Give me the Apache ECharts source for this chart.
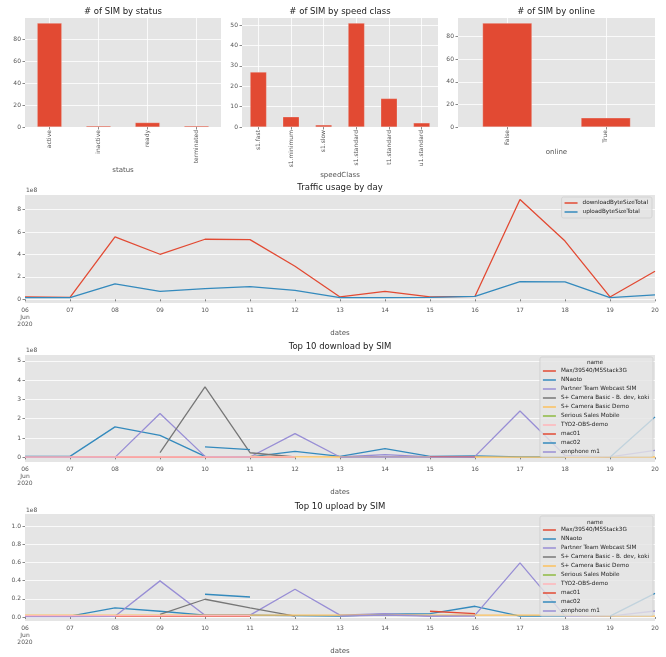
<!DOCTYPE html>
<html><head><meta charset="utf-8">
<script src="https://cdn.jsdelivr.net/npm/echarts@6/dist/echarts.min.js"></script>
<style>html,body{margin:0;padding:0;background:#fff}#c{width:666px;height:657px}</style>
</head><body><div id="c"></div>
<script>
// ---------- data ----------
const statusCats = ['active', 'inactive', 'ready', 'terminated'];
const statusCounts = [95, 1, 4, 1];
const speedCats = ['s1.fast', 's1.minimum', 's1.slow', 's1.standard', 't1.standard', 'u1.standard'];
const speedCounts = [27, 5, 1, 51, 14, 2];
const onlineCats = ['False', 'True'];
const onlineCounts = [92, 8];

const dayLabels = ['06\nJun\n2020', '07', '08', '09', '10', '11', '12', '13', '14', '15', '16', '17', '18', '19', '20'];

const downloadTotal = [0.21e8, 0.18e8, 5.57e8, 4.02e8, 5.36e8, 5.33e8, 2.95e8, 0.21e8, 0.71e8, 0.21e8, 0.27e8, 8.9e8, 5.2e8, 0.21e8, 2.5e8];
const uploadTotal = [0.15e8, 0.15e8, 1.37e8, 0.71e8, 0.95e8, 1.13e8, 0.8e8, 0.15e8, 0.15e8, 0.18e8, 0.27e8, 1.58e8, 1.55e8, 0.15e8, 0.39e8];

const simNames = ['Max/39540/M5Stack3G', 'NNaoto', 'Partner Team Webcast SIM', 'S+ Camera Basic - B. dev, koki', 'S+ Camera Basic Demo', 'Serious Sales Mobile', 'TYO2-OBS-demo', 'mac01', 'mac02', 'zenphone m1'];

// download by SIM (bytes)
const dlMax = [0.01e8, 0.01e8, 0.01e8, 0.01e8, 0.01e8, 0.01e8, 0.01e8, null, null, null, null, null, null, null, null];
const dlNNaoto = [0.05e8, 0.05e8, 1.58e8, 1.14e8, 0.05e8, 0.03e8, 0.31e8, 0.05e8, 0.45e8, 0.05e8, 0.08e8, 0.03e8, 0.02e8, null, null];
const dlPartner = [0.0, 0.0, 0.0, 2.27e8, 0.05e8, 0.02e8, 1.23e8, 0.02e8, 0.14e8, 0.03e8, 0.05e8, 2.4e8, 0.1e8, 0.02e8, 0.36e8];
const dlKoki = [null, null, null, 0.24e8, 3.65e8, 0.24e8, 0.02e8, null, null, null, null, null, null, null, null];
const dlDemo = [null, null, null, null, null, 0.05e8, 0.03e8, 0.02e8, 0.04e8, 0.02e8, 0.03e8, 0.01e8, 0.01e8, 0.02e8, 0.02e8];
const dlSerious = [null, null, null, null, null, null, null, null, null, null, null, null, 5.05e8, null, null];
const dlTYO2 = [0.02e8, 0.02e8, 0.02e8, 0.02e8, 0.02e8, 0.02e8, 0.02e8, null, null, null, null, null, null, null, null];
const dlMac01 = [null, null, null, null, null, null, null, null, null, 0.04e8, 0.02e8, null, null, null, null];
const dlMac02 = [null, null, null, null, 0.54e8, 0.4e8, null, null, null, null, null, null, null, 0.01e8, 2.09e8];
const dlZen = [null, null, null, null, null, null, null, 0.01e8, 0.02e8, 0.01e8, 0.01e8, null, null, null, null];

// upload by SIM (bytes)
const ulMax = [0.01e8, 0.01e8, 0.01e8, 0.01e8, 0.01e8, 0.01e8, null, null, null, null, null, null, null, null, null];
const ulNNaoto = [0.01e8, 0.01e8, 0.10e8, 0.063e8, 0.02e8, 0.02e8, 0.015e8, 0.01e8, 0.03e8, 0.037e8, 0.118e8, 0.01e8, 0.01e8, null, null];
const ulPartner = [0.005e8, 0.005e8, 0.008e8, 0.397e8, 0.02e8, 0.02e8, 0.305e8, 0.02e8, 0.037e8, 0.01e8, 0.02e8, 0.595e8, 0.01e8, 0.01e8, 0.066e8];
const ulKoki = [null, null, null, 0.03e8, 0.195e8, 0.10e8, 0.01e8, null, null, null, null, null, null, null, null];
const ulDemo = [0.02e8, 0.02e8, 0.02e8, 0.02e8, 0.02e8, 0.02e8, 0.02e8, 0.02e8, 0.02e8, 0.02e8, 0.02e8, 0.02e8, 0.02e8, 0.01e8, 0.01e8];
const ulSerious = [null, null, null, null, null, null, null, null, null, null, null, null, 1.08e8, null, null];
const ulTYO2 = [0.015e8, 0.015e8, 0.015e8, 0.015e8, 0.015e8, 0.015e8, null, null, null, null, null, null, null, null, null];
const ulMac01 = [null, null, null, null, null, null, null, null, null, 0.063e8, 0.037e8, null, null, null, null];
const ulMac02 = [null, null, null, null, 0.25e8, 0.22e8, null, null, null, null, null, null, null, 0.01e8, 0.26e8];
const ulZen = [null, null, null, null, null, null, null, 0.01e8, 0.02e8, 0.01e8, 0.01e8, null, null, null, null];

const dlBySim = [dlMax, dlNNaoto, dlPartner, dlKoki, dlDemo, dlSerious, dlTYO2, dlMac01, dlMac02, dlZen];
const ulBySim = [ulMax, ulNNaoto, ulPartner, ulKoki, ulDemo, ulSerious, ulTYO2, ulMac01, ulMac02, ulZen];

// ---------- style ----------
const FONT = 'DejaVu Sans';
const PAL = ['#E24A33', '#348ABD', '#988ED5', '#777777', '#FBC15E', '#8EBA42', '#FFB5B8'];
const BG = '#E5E5E5';
const TXT = '#555555';
const TICK_FS = 6;
const NAME_FS = 7;

const grids = [
  {left: 25, top: 18, width: 196, height: 109},
  {left: 242, top: 18, width: 196, height: 109},
  {left: 458, top: 18, width: 197, height: 109},
  {left: 25, top: 195, width: 630, height: 108},
  {left: 25, top: 355, width: 630, height: 107},
  {left: 25, top: 514, width: 630, height: 107}
].map(g => Object.assign({show: true, backgroundColor: BG, borderWidth: 0, containLabel: false}, g));

function barX(i, cats, name, gap) {
  return {
    type: 'category', gridIndex: i, data: cats, boundaryGap: true,
    axisLine: {show: false},
    axisTick: {show: true, alignWithLabel: true, length: 2.5, lineStyle: {color: TXT, width: 0.7}},
    splitLine: {show: true, alignWithLabel: true, lineStyle: {color: '#fff', width: 0.8}},
    axisLabel: {rotate: 90, fontSize: TICK_FS, color: TXT, margin: 3, fontFamily: FONT, interval: 0},
    name: name, nameLocation: 'middle', nameGap: gap,
    nameTextStyle: {fontSize: NAME_FS, color: TXT, fontFamily: FONT}
  };
}
function barY(i, max, interval) {
  return {
    type: 'value', gridIndex: i, min: 0, max: max, interval: interval,
    axisLine: {show: false},
    axisTick: {show: true, length: 2.5, lineStyle: {color: TXT, width: 0.7}},
    splitLine: {show: true, showMaxLine: false, lineStyle: {color: '#fff', width: 0.8}},
    axisLabel: {fontSize: TICK_FS, color: TXT, margin: 4, fontFamily: FONT, showMaxLabel: false}
  };
}
function lineX(i, gap) {
  return {
    type: 'category', gridIndex: i, data: dayLabels, boundaryGap: false,
    axisLine: {show: false},
    axisTick: {show: true, length: 2, interval: 0, lineStyle: {color: TXT, width: 0.7}},
    splitLine: {show: false},
    axisLabel: {fontSize: TICK_FS, color: TXT, margin: 4, lineHeight: 7, fontFamily: FONT, interval: 0},
    name: 'dates', nameLocation: 'middle', nameGap: gap,
    nameTextStyle: {fontSize: NAME_FS, color: TXT, fontFamily: FONT}
  };
}
function lineY(i, min, max, digits) {
  return {
    type: 'value', gridIndex: i, min: min, max: max, splitNumber: 5,
    axisLine: {show: false},
    axisTick: {show: true, length: 2.5, lineStyle: {color: TXT, width: 0.7}},
    splitLine: {show: true, showMinLine: false, showMaxLine: false, lineStyle: {color: '#fff', width: 0.8}},
    axisLabel: {fontSize: TICK_FS, color: TXT, margin: 4, fontFamily: FONT, showMinLabel: false, showMaxLabel: false,
      formatter: v => (v / 1e8).toFixed(digits)}
  };
}

const titleStyle = {fontSize: 8.5, fontWeight: 'normal', color: '#222', fontFamily: FONT};
function ttl(text, x, y) {
  return {text: text, left: x, top: y, textAlign: 'center', padding: 0, textStyle: titleStyle};
}

function barSeries(i, data) {
  return {type: 'bar', xAxisIndex: i, yAxisIndex: i, data: data, barWidth: '50%',
    itemStyle: {color: PAL[0], borderColor: '#EEEEEE', borderWidth: 0.3}};
}
function lineSeries(i, name, data, color) {
  return {type: 'line', name: name, xAxisIndex: i, yAxisIndex: i, data: data, symbol: 'none', showSymbol: false,
    color: color, lineStyle: {color: color, width: 1.3}, itemStyle: {color: color}, connectNulls: false};
}

const series = [
  barSeries(0, statusCounts),
  barSeries(1, speedCounts),
  barSeries(2, onlineCounts),
  lineSeries(3, 'downloadByteSizeTotal', downloadTotal, PAL[0]),
  lineSeries(3, 'uploadByteSizeTotal', uploadTotal, PAL[1])
];
simNames.forEach((n, k) => series.push(lineSeries(4, n, dlBySim[k], PAL[k % PAL.length])));
simNames.forEach((n, k) => series.push(lineSeries(5, n, ulBySim[k], PAL[k % PAL.length])));

const legendBase = {
  orient: 'vertical', itemWidth: 13, itemHeight: 1.5, itemGap: 3, icon: 'rect',
  backgroundColor: 'rgba(229,229,229,0.8)', borderColor: '#cfcfcf', borderWidth: 0.8, borderRadius: 2,
  textStyle: {fontSize: 5.7, color: '#222', lineHeight: 6, fontFamily: FONT},
  selectedMode: false
};

const option = {
  animation: false,
  backgroundColor: '#fff',
  textStyle: {fontFamily: FONT},
  grid: grids,
  title: [
    ttl('# of SIM by status', 123, 7),
    ttl('# of SIM by speed class', 340, 7),
    ttl('# of SIM by online', 556, 7),
    ttl('Traffic usage by day', 340, 183),
    ttl('Top 10 download by SIM', 340, 342),
    ttl('Top 10 upload by SIM', 340, 502)
  ],
  xAxis: [
    barX(0, statusCats, 'status', 39),
    barX(1, speedCats, 'speedClass', 43),
    barX(2, onlineCats, 'online', 20),
    lineX(3, 27), lineX(4, 27), lineX(5, 27)
  ],
  yAxis: [
    barY(0, 99.75, 20), barY(1, 53.55, 10), barY(2, 96.6, 20),
    lineY(3, -0.33e8, 9.31e8, 0),
    lineY(4, -0.24e8, 5.30e8, 0),
    lineY(5, -0.044e8, 1.132e8, 1)
  ],
  legend: [
    Object.assign({}, legendBase, {right: 14, top: 197, padding: [3, 4, 3, 3],
      data: ['downloadByteSizeTotal', 'uploadByteSizeTotal']}),
    Object.assign({}, legendBase, {right: 13, top: 357, padding: [11, 4, 2, 3], data: simNames}),
    Object.assign({}, legendBase, {right: 13, top: 516, padding: [11, 4, 2, 3], data: simNames})
  ],
  graphic: [
    {type: 'text', left: 26, top: 187, z: 100, style: {text: '1e8', fontSize: TICK_FS, fill: TXT, fontFamily: FONT}},
    {type: 'text', left: 26, top: 347, z: 100, style: {text: '1e8', fontSize: TICK_FS, fill: TXT, fontFamily: FONT}},
    {type: 'text', left: 26, top: 507, z: 100, style: {text: '1e8', fontSize: TICK_FS, fill: TXT, fontFamily: FONT}},
    {type: 'text', x: 595, y: 363, z: 100, style: {text: 'name', fontSize: 5.7, fill: '#222', fontFamily: FONT, align: 'center', verticalAlign: 'middle'}},
    {type: 'text', x: 595, y: 523, z: 100, style: {text: 'name', fontSize: 5.7, fill: '#222', fontFamily: FONT, align: 'center', verticalAlign: 'middle'}}
  ],
  series: series
};

const chart = echarts.init(document.getElementById('c'), null, {renderer: 'canvas'});
chart.setOption(option);
</script>
</body></html>
